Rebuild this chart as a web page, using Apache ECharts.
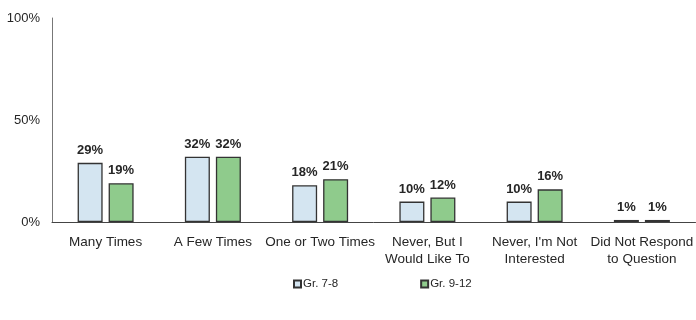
<!DOCTYPE html>
<html>
<head>
<meta charset="utf-8">
<script src="https://cdn.jsdelivr.net/npm/echarts@6/dist/echarts.min.js"></script>
<style>
  html, body {margin: 0; padding: 0; background: #fff;}
  #chart {width: 696px; height: 320px;}
</style>
</head>
<body>
<div id="chart"></div>
<script>
const categories = ['Many Times', 'A Few Times', 'One or Two Times', 'Never, But I\nWould Like To', "Never, I'm Not\nInterested", 'Did Not Respond\nto Question'];
const gr78 = [29, 32, 18, 10, 10, 1];
const gr912 = [19, 32, 21, 12, 16, 1];
const seriesNames = ['Gr. 7-8', 'Gr. 9-12'];

const chart = echarts.init(document.getElementById('chart'));
const labelStyle = {
    show: true,
    position: 'top',
    formatter: '{c}%',
    fontFamily: 'Liberation Sans',
    fontWeight: 'bold',
    fontSize: 13,
    color: '#262626',
    distance: 6
};
chart.setOption({
    animation: false,
    textStyle: {fontFamily: 'Liberation Sans'},
    grid: {left: 52, top: 18, width: 647, height: 204},
    legend: {
        data: seriesNames,
        bottom: 25,
        left: 288,
        itemWidth: 7,
        itemHeight: 7,
        itemGap: 82,
        icon: 'rect',
        textStyle: {fontSize: 11.5, color: '#262626', padding: [0, 0, 0, -3]}
    },
    xAxis: {
        type: 'category',
        data: categories,
        axisTick: {show: false},
        axisLine: {lineStyle: {color: '#444', width: 1}},
        axisLabel: {fontSize: 13.5, color: '#262626', margin: 12, lineHeight: 17, interval: 0}
    },
    yAxis: {
        type: 'value',
        min: 0,
        max: 100,
        interval: 50,
        splitLine: {show: false},
        axisLine: {show: true, lineStyle: {color: '#777', width: 1}},
        axisLabel: {fontSize: 13, color: '#262626', formatter: '{value}%', margin: 12}
    },
    series: [{
        name: seriesNames[0],
        type: 'bar',
        data: gr78,
        barWidth: 25,
        barGap: '24%',
        itemStyle: {color: '#d4e5f1', borderColor: '#333', borderWidth: 1.3},
        label: labelStyle
    }, {
        name: seriesNames[1],
        type: 'bar',
        data: gr912,
        barWidth: 25,
        itemStyle: {color: '#8fcb8c', borderColor: '#333', borderWidth: 1.3},
        label: labelStyle
    }]
});
</script>
</body>
</html>
